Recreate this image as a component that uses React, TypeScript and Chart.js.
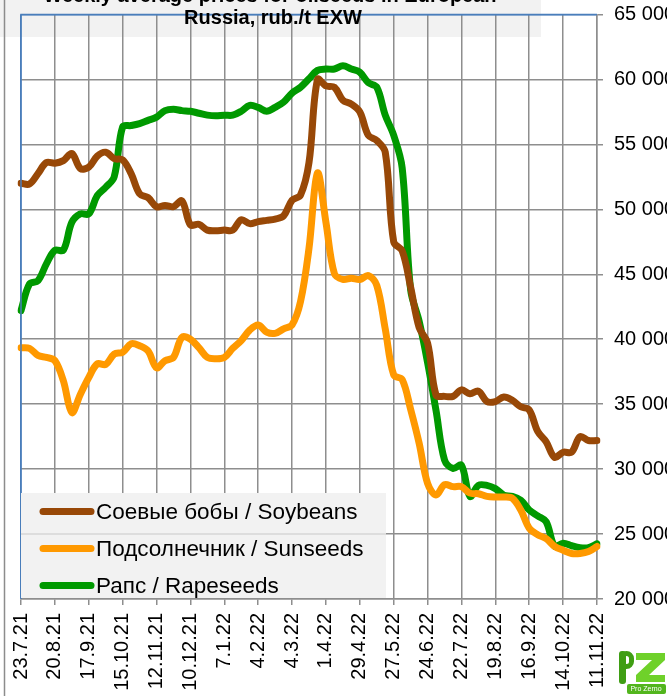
import React, { useEffect, useRef } from "react";
import { Chart, registerables } from "chart.js";

Chart.register(...registerables);

const WEEKS: string[] = [
  "23.7.21", "30.7.21", "6.8.21", "13.8.21", "20.8.21", "27.8.21", "3.9.21", "10.9.21",
  "17.9.21", "24.9.21", "1.10.21", "8.10.21", "15.10.21", "22.10.21", "29.10.21", "5.11.21",
  "12.11.21", "19.11.21", "26.11.21", "3.12.21", "10.12.21", "17.12.21", "24.12.21", "31.12.21",
  "7.1.22", "14.1.22", "21.1.22", "28.1.22", "4.2.22", "11.2.22", "18.2.22", "25.2.22",
  "4.3.22", "11.3.22", "18.3.22", "25.3.22", "1.4.22", "8.4.22", "15.4.22", "22.4.22",
  "29.4.22", "6.5.22", "13.5.22", "20.5.22", "27.5.22", "3.6.22", "10.6.22", "17.6.22",
  "24.6.22", "1.7.22", "8.7.22", "15.7.22", "22.7.22", "29.7.22", "5.8.22", "12.8.22",
  "19.8.22", "26.8.22", "2.9.22", "9.9.22", "16.9.22", "23.9.22", "30.9.22", "7.10.22",
  "14.10.22", "21.10.22", "28.10.22", "4.11.22", "11.11.22",
];

const SOYBEANS: number[] = [
  52000, 51950, 52750, 53600, 53550, 53750, 54300, 53150,
  53250, 54100, 54400, 53900, 53800, 52750, 51200, 50900,
  50200, 50300, 50200, 50650, 48800, 48850, 48400, 48350,
  48400, 48400, 49200, 48900, 49050, 49150, 49250, 49500,
  50700, 51100, 53600, 60000, 59500, 59400, 58400, 58100,
  57500, 55700, 55300, 54400, 47500, 46800, 44000, 40900,
  39700, 35700, 35600, 35600, 36100, 35800, 36000, 35200,
  35200, 35550, 35300, 34800, 34550, 32900, 32100, 30900,
  31300, 31300, 32500, 32200, 32200,
];

const SUNSEEDS: number[] = [
  39350, 39300, 38750, 38600, 38350, 36800, 34350, 35750,
  37050, 38100, 38050, 38850, 39000, 39650, 39500, 39100,
  37800, 38350, 38600, 40150, 40000, 39350, 38600, 38500,
  38600, 39300, 39900, 40700, 41100, 40550, 40450, 40800,
  41100, 42900, 47000, 52800, 49000, 45050, 44600, 44700,
  44600, 44900, 44150, 40800, 37250, 36900, 34600, 32000,
  28900, 28000, 28800, 28650, 28650, 28150, 28100, 27900,
  27850, 27850, 27750, 26850, 25450, 24950, 24650, 24050,
  23750, 23500, 23500, 23650, 24050,
];

const RAPESEEDS: number[] = [
  42200, 44250, 44500, 45800, 46850, 46850, 49000, 49650,
  49650, 51050, 51700, 52500, 56350, 56450, 56600, 56850,
  57100, 57600, 57700, 57600, 57550, 57400, 57250, 57200,
  57250, 57250, 57550, 58000, 57850, 57550, 57850, 58250,
  58950, 59400, 60050, 60700, 60800, 60800, 61050, 60800,
  60550, 59750, 59400, 57250, 55700, 53200, 43800, 41400,
  38200, 34500, 30700, 30050, 30300, 27900, 28750, 28750,
  28500, 28000, 27900, 27600, 26850, 26400, 25950, 24050,
  24300, 24100, 23950, 23950, 24250,
];

const SERIES_NAMES: string[] = [
  "Соевые бобы / Soybeans",
  "Подсолнечник / Sunseeds",
  "Рапс / Rapeseeds",
];
const SERIES_COLORS: string[] = ["#984807", "#ff9900", "#009900"];

const TITLE_LINES: string[] = [
  "Weekly average prices for oilseeds in European",
  "Russia, rub./t EXW",
];

const Y_MIN = 20000;
const Y_MAX = 65000;
const Y_STEP = 5000;

const FONT = "'Liberation Sans', Arial, sans-serif";
const GRID = "#8e8e8e";
const BLUE = "#4a7ebb";

const decorPlugin = {
  id: "decor",
  beforeDraw(chart: any) {
    const ctx = chart.ctx;
    ctx.save();
    ctx.fillStyle = "#ffffff";
    ctx.fillRect(0, 0, chart.width, chart.height);
    ctx.fillStyle = "#f2f2f2";
    ctx.fillRect(0, 0, 541, 37);
    ctx.strokeStyle = "#8c8c8c";
    ctx.lineWidth = 1.5;
    ctx.beginPath();
    ctx.moveTo(4.5, 0);
    ctx.lineTo(4.5, chart.height);
    ctx.stroke();
    ctx.restore();
  },
  afterDatasetsDraw(chart: any) {
    const ctx = chart.ctx;
    const area = chart.chartArea;
    const ys = chart.scales.y;
    ctx.save();
    ctx.strokeStyle = BLUE;
    ctx.lineWidth = 1.5;
    ctx.beginPath();
    ctx.moveTo(area.left, area.bottom);
    ctx.lineTo(area.left, area.top);
    ctx.lineTo(area.right, area.top);
    ctx.stroke();

    ctx.fillStyle = "#000";
    ctx.font = `bold 20px ${FONT}`;
    ctx.textAlign = "center";
    ctx.textBaseline = "alphabetic";
    ctx.fillText(TITLE_LINES[0], 270, 2);
    ctx.fillText(TITLE_LINES[1], 273, 24);

    const lx = 21, ly = 493, lw = 365, lh = 105;
    ctx.fillStyle = "#f2f2f2";
    ctx.fillRect(lx, ly, lw, lh);
    const y25 = ys.getPixelForValue(25000);
    ctx.strokeStyle = "#d6d6d6";
    ctx.lineWidth = 1.5;
    ctx.beginPath();
    ctx.moveTo(lx, y25);
    ctx.lineTo(lx + lw, y25);
    ctx.stroke();
    const rows = [511.5, 548.5, 585.5];
    ctx.font = `22.5px ${FONT}`;
    ctx.textAlign = "left";
    ctx.textBaseline = "middle";
    SERIES_NAMES.forEach((name, i) => {
      ctx.strokeStyle = SERIES_COLORS[i];
      ctx.lineWidth = 7;
      ctx.lineCap = "round";
      ctx.beginPath();
      ctx.moveTo(43, rows[i]);
      ctx.lineTo(91, rows[i]);
      ctx.stroke();
      ctx.fillStyle = "#000";
      ctx.fillText(name, 96, rows[i] + 1);
    });

    ctx.lineCap = "butt";
    ctx.fillStyle = "#3f9e14";
    ctx.beginPath();
    ctx.roundRect(619, 651, 7, 33, 3);
    ctx.fill();
    ctx.strokeStyle = "#3f9e14";
    ctx.lineWidth = 5;
    ctx.beginPath();
    ctx.roundRect(621.5, 653.5, 10, 13, 5);
    ctx.stroke();
    ctx.fillStyle = "#6fd12a";
    ctx.beginPath();
    ctx.moveTo(636, 653);
    ctx.lineTo(665, 653);
    ctx.lineTo(665, 660);
    ctx.lineTo(649, 675);
    ctx.lineTo(665, 675);
    ctx.lineTo(665, 682);
    ctx.lineTo(636, 682);
    ctx.lineTo(636, 675);
    ctx.lineTo(652, 660);
    ctx.lineTo(636, 660);
    ctx.closePath();
    ctx.fill();
    ctx.fillStyle = "#52b51d";
    ctx.beginPath();
    ctx.roundRect(627, 684, 39, 10, 2);
    ctx.fill();
    ctx.fillStyle = "#ffffff";
    ctx.font = `7px ${FONT}`;
    ctx.textAlign = "center";
    ctx.fillText("Pro Zerno", 646, 689.5);
    ctx.restore();
  },
};

export default function App() {
  const ref = useRef<HTMLCanvasElement | null>(null);

  useEffect(() => {
    if (!ref.current) return;
    const chart = new Chart(ref.current, {
      type: "line",
      data: {
        labels: WEEKS,
        datasets: [SOYBEANS, SUNSEEDS, RAPESEEDS].map((d, i) => ({
          label: SERIES_NAMES[i],
          data: d,
          borderColor: SERIES_COLORS[i],
          backgroundColor: SERIES_COLORS[i],
          borderWidth: 7,
          pointRadius: 0,
          tension: 0.35,
          borderCapStyle: "round",
          borderJoinStyle: "round",
          fill: false,
        })),
      },
      options: {
        animation: false,
        responsive: false,
        layout: { padding: { left: 21, top: 14.5, right: 0, bottom: 0 } },
        plugins: {
          legend: { display: false },
          title: { display: false },
          tooltip: { enabled: false },
        },
        scales: {
          x: {
            type: "category",
            offset: false,
            afterBuildTicks: (s: any) => {
              s.ticks = s.ticks.filter((_t: any, i: number) => i % 4 === 0);
            },
            afterFit: (s: any) => {
              s.height = 97;
              s.paddingLeft = 0;
              s.paddingRight = 0;
            },
            grid: {
              color: (c: any) => (c.index === 0 ? BLUE : GRID),
              lineWidth: 1.5,
              tickLength: 6,
              tickColor: GRID,
            },
            border: { color: GRID, width: 1.5 },
            ticks: {
              autoSkip: false,
              maxRotation: 90,
              minRotation: 90,
              padding: 8,
              color: "#000",
              font: { family: FONT, size: 20 },
            },
          },
          y: {
            position: "right",
            min: Y_MIN,
            max: Y_MAX,
            afterFit: (s: any) => {
              s.width = 70;
              s.paddingTop = 0;
              s.paddingBottom = 0;
            },
            grid: {
              color: (c: any) => (c.tick && c.tick.value === Y_MAX ? BLUE : GRID),
              lineWidth: 1.5,
              tickLength: 6,
              tickColor: GRID,
            },
            border: { color: GRID, width: 1.5 },
            ticks: {
              stepSize: Y_STEP,
              padding: 11,
              color: "#000",
              font: { family: FONT, size: 20 },
              callback: (v: any) => `${Math.round(Number(v) / 1000)} 000`,
            },
          },
        },
      },
      plugins: [decorPlugin],
    } as any);
    return () => chart.destroy();
  }, []);

  return (
    <div
      style={{
        position: "absolute",
        left: 0,
        top: 0,
        width: 667,
        height: 696,
        overflow: "hidden",
        background: "#fff",
      }}
    >
      <canvas ref={ref} width={667} height={696} style={{ display: "block" }} />
    </div>
  );
}
